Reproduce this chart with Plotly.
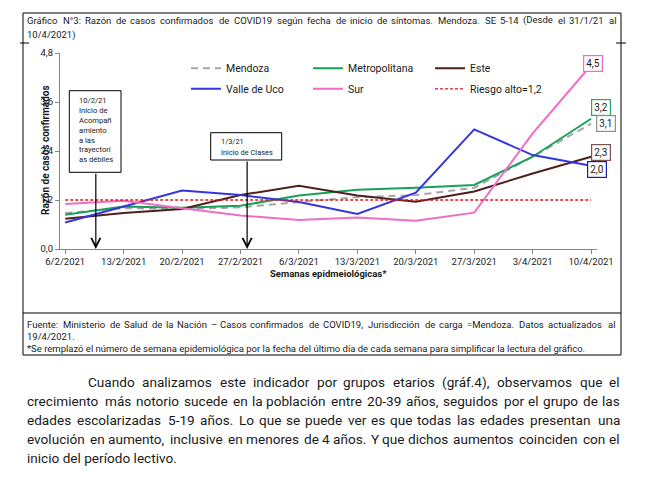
import unicodedata
import plotly.graph_objects as go

# ---------------- data ----------------
dates = ["2021-02-06", "2021-02-13", "2021-02-20", "2021-02-27", "2021-03-06",
         "2021-03-13", "2021-03-20", "2021-03-27", "2021-04-03", "2021-04-10"]
tick_labels = ["6/2/2021", "13/2/2021", "20/2/2021", "27/2/2021", "6/3/2021",
               "13/3/2021", "20/3/2021", "27/3/2021", "3/4/2021", "10/4/2021"]
mendoza = [0.88, 1.00, 0.98, 1.02, 1.15, 1.27, 1.32, 1.50, 2.26, 3.07]
metropolitana = [0.84, 1.04, 1.01, 1.06, 1.31, 1.45, 1.50, 1.57, 2.26, 3.19]
este = [0.74, 0.88, 0.98, 1.32, 1.55, 1.31, 1.16, 1.41, 1.85, 2.26]
valle_de_uco = [0.65, 1.04, 1.43, 1.32, 1.15, 0.86, 1.38, 2.93, 2.30, 2.04]
sur = [1.10, 1.18, 1.00, 0.82, 0.71, 0.77, 0.69, 0.89, 2.83, 4.50]
riesgo_alto = [1.2] * len(dates)
y_ticks = [0, 1.2, 2.4, 3.6, 4.8]
y_tick_labels = ["0,0", "1,2", "2,4", "3,6", "4,8"]
event_dates = ["2021-02-09 16:00", "2021-02-27 19:00"]
event_texts = [["10/2/21", "Inicio de", "Acompañ", "amiento", "a las", "trayectori", "as débiles"],
               ["1/3/21", "Inicio de Clases"]]

title_lines = ["Gráfico N°3: Razón de casos  confirmados de COVID19 según fecha de inicio de síntomas. Mendoza. SE 5-14 (Desde el 31/1/21 al",
               "10/4/2021)"]
footer_lines = ["Fuente: Ministerio de Salud de la Nación – Casos confirmados de COVID19, Jurisdicción de carga =Mendoza. Datos actualizados al",
                "19/4/2021.",
                "*Se remplazó el número de semana epidemiológica por la fecha del último día de cada semana para simplificar la lectura del gráfico."]
paragraph_lines = ["Cuando analizamos este indicador por grupos etarios (gráf.4), observamos  que el",
                   "crecimiento más notorio sucede en la población entre 20-39 años, seguidos por el grupo de las",
                   "edades escolarizadas 5-19 años. Lo que se puede ver es que todas las edades presentan una",
                   "evolución en aumento, inclusive en menores de 4 años. Y que dichos aumentos coinciden con el",
                   "inicio del período lectivo."]

# ---------------- geometry helpers (window pixel coords) ----------------
OFF = 8                      # page body margin
W_FIG, H_FIG = 656 - OFF, 487 - OFF
PL, PR, PT, PB = 60, 597, 53, 249   # plot area in window pixels
ML, MT = PL - OFF, PT - OFF
MR, MB = 656 - PR, 487 - PB
PW = PR - PL
PH = PB - PT


def xp(px):
    return (px - PL) / PW


def yp(py):
    return (PB - py) / PH


FONT = "Roboto"
TXT = "#1a1a1a"

ROBOTO_W = {" ": 0.248, "!": 0.258, "(": 0.342, ")": 0.348, "*": 0.431, ",": 0.196, "-": 0.276,
            ".": 0.264, "/": 0.412, ":": 0.242, "=": 0.549, "°": 0.38, "–": 0.56,
            "A": 0.653, "B": 0.623, "C": 0.652, "D": 0.656, "E": 0.568, "F": 0.553, "G": 0.681,
            "H": 0.713, "I": 0.272, "J": 0.552, "K": 0.627, "L": 0.538, "M": 0.873, "N": 0.713,
            "O": 0.688, "P": 0.631, "Q": 0.688, "R": 0.616, "S": 0.593, "T": 0.597, "U": 0.649,
            "V": 0.637, "W": 0.887, "X": 0.627, "Y": 0.601, "Z": 0.599,
            "a": 0.544, "b": 0.561, "c": 0.523, "d": 0.564, "e": 0.530, "f": 0.347, "g": 0.561,
            "h": 0.551, "i": 0.243, "j": 0.239, "k": 0.507, "l": 0.243, "m": 0.876, "n": 0.552,
            "o": 0.570, "p": 0.561, "q": 0.568, "r": 0.338, "s": 0.516, "t": 0.327, "u": 0.551,
            "v": 0.484, "w": 0.751, "x": 0.496, "y": 0.473, "z": 0.496}
for d in "0123456789":
    ROBOTO_W[d] = 0.562
WFAC = 1.04


def text_width(s, size):
    tot = 0.0
    for ch in s:
        base = unicodedata.normalize("NFD", ch)[0]
        tot += ROBOTO_W.get(ch, ROBOTO_W.get(base, 0.55))
    return tot * size * WFAC


annotations = []


def add_text(px, py, text, size, anchor="left", **kw):
    annotations.append(dict(x=xp(px), y=yp(py), xref="paper", yref="paper", text=text,
                            showarrow=False, xanchor=anchor, yanchor="middle",
                            font=dict(family=FONT, size=size, color=TXT), borderpad=0,
                            borderwidth=0, **kw))


def add_justified(line, x0, x1, py, size):
    words = line.split()
    widths = [text_width(w, size) for w in words]
    gap = (x1 - x0 - sum(widths)) / (len(words) - 1)
    x = x0
    for i, (w, wd) in enumerate(zip(words, widths)):
        if i == len(words) - 1:
            add_text(x1, py, w, size, anchor="right")
        else:
            add_text(x, py, w, size)
        x += wd + gap


# ---------------- figure ----------------
fig = go.Figure()
series = [("Mendoza", mendoza, "#a6a6a6", "7px,5px", 2.0, "legend"),
          ("Metropolitana", metropolitana, "#17a05a", "solid", 2.0, "legend"),
          ("Este", este, "#4e1f1c", "solid", 2.0, "legend"),
          ("Valle de Uco", valle_de_uco, "#3535e0", "solid", 2.0, "legend2"),
          ("Sur", sur, "#f06cc8", "solid", 2.0, "legend2"),
          ("Riesgo alto=1,2", riesgo_alto, "#e01818", "3px,2px", 1.3, "legend2")]
for name, vals, col, dash, wdt, leg in series:
    fig.add_trace(go.Scatter(x=dates, y=vals, name=name, mode="lines", legend=leg,
                             line=dict(color=col, width=wdt, dash=dash)))

# end labels
label_specs = [(sur, "#ee6cc6", 2, 2), (metropolitana, "#2aa866", 10, 11.6),
               (mendoza, "#8f8f8f", 15, 0), (este, "#7a5252", 9.5, 4),
               (valle_de_uco, "#1c1caa", 6, -4)]
for vals, col, xs, ys in label_specs:
    annotations.append(dict(x=dates[-1], y=vals[-1], xref="x", yref="y",
                            text=f"{vals[-1]:.1f}".replace(".", ","), showarrow=False,
                            xshift=xs, yshift=ys, bgcolor="white", bordercolor=col,
                            borderwidth=1.2, borderpad=2,
                            font=dict(family=FONT, size=10, color=TXT)))

# event arrows
box_bottoms = [172.3, 160.0]
for d, bb in zip(event_dates, box_bottoms):
    annotations.append(dict(x=d, y=0, xref="x", yref="y", text="", showarrow=True,
                            ax=0, ay=-(PB - bb), arrowhead=5, arrowsize=1.5,
                            arrowwidth=1.2, arrowcolor="black", standoff=0))

shapes = []


def rect(x0, y0, x1, y1, col="black", w=1, fill=None):
    shapes.append(dict(type="rect", xref="paper", yref="paper", x0=xp(x0), x1=xp(x1),
                       y0=yp(y0), y1=yp(y1), line=dict(color=col, width=w),
                       fillcolor=fill, layer="above"))


def hline(x0, x1, y, col="black", w=1):
    shapes.append(dict(type="line", xref="paper", yref="paper", x0=xp(x0), x1=xp(x1),
                       y0=yp(y), y1=yp(y), line=dict(color=col, width=w)))


# event boxes + text
rect(69.3, 90.7, 121, 172.3, fill="white")
annotations.append(dict(x=xp(79), y=yp(95.5), xref="paper", yref="paper",
                        text="<br>".join(event_texts[0]), showarrow=False, xanchor="left",
                        yanchor="top", align="left", borderpad=0, borderwidth=0,
                        font=dict(family=FONT, size=7.6, color=TXT)))
rect(210.7, 132.7, 281.7, 160, fill="white")
add_text(220.7, 141.7, event_texts[1][0], 7.4)
add_text(220.7, 152.7, event_texts[1][1], 7.4)

# frame
rect(23, 13, 621, 355)
hline(23, 621, 313)
hline(20, 29, 43)
hline(616, 626, 43)

# title
TS = 9.5
add_justified(title_lines[0], 27, 616, 20, TS)
add_text(27, 35, title_lines[1], TS)

# footer
add_justified(footer_lines[0], 27, 615, 324, TS)
add_text(27, 336, footer_lines[1], TS)
add_text(27, 348, footer_lines[2], TS)

# axis titles
annotations.append(dict(x=xp(37.5), y=yp(150), xref="paper", yref="paper",
                        text="Razón de casos confirmados", showarrow=False, textangle=-90,
                        font=dict(family=FONT, size=10, color=TXT, weight="bold")))
annotations.append(dict(x=xp(328), y=yp(281), xref="paper", yref="paper",
                        text="Semanas epidmeiológicas*", showarrow=False,
                        font=dict(family=FONT, size=9.5, color=TXT, weight="bold")))

# paragraph
PS = 13.6
para_y = [382, 401, 420, 439, 458]
add_justified(paragraph_lines[0], 88, 620, para_y[0], PS)
for ln, yy in zip(paragraph_lines[1:4], para_y[1:4]):
    add_justified(ln, 27, 620, yy, PS)
add_text(27, para_y[4], paragraph_lines[4], PS)

axis_col = "#868686"
leg_common = dict(orientation="h", entrywidth=77, entrywidthmode="pixels",
                  xanchor="left", yanchor="top",
                  font=dict(family=FONT, size=10.5, color=TXT), itemwidth=30,
                  bgcolor="rgba(0,0,0,0)")
fig.update_layout(
    width=W_FIG, height=H_FIG,
    margin=dict(l=ML, r=MR, t=MT, b=MB),
    paper_bgcolor="white", plot_bgcolor="white",
    showlegend=True,
    legend=dict(x=xp(186), y=yp(53.7), **leg_common),
    legend2=dict(x=xp(186), y=yp(74.3), **leg_common),
    xaxis=dict(type="date", range=["2021-02-05 09:00", "2021-04-10 17:00"],
               tickvals=dates, ticktext=tick_labels, ticks="outside", ticklen=4,
               tickcolor=axis_col, showline=True, linecolor=axis_col, linewidth=1,
               showgrid=False, zeroline=False,
               tickfont=dict(family=FONT, size=9.5, color=TXT)),
    yaxis=dict(range=[0, 4.8], tickvals=y_ticks, ticktext=y_tick_labels, ticks="outside",
               ticklen=4, tickcolor=axis_col, showline=True, linecolor=axis_col,
               linewidth=1, showgrid=False, zeroline=False,
               tickfont=dict(family=FONT, size=9.5, color=TXT)),
    annotations=annotations,
    shapes=shapes,
)
fig.write_html("out.html")
